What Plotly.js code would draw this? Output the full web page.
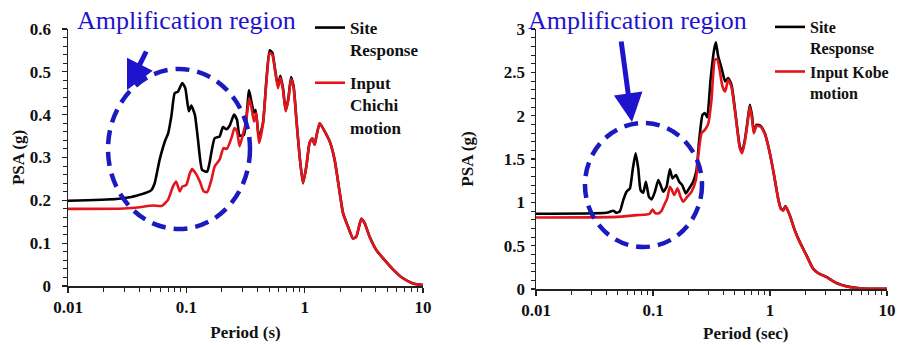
<!DOCTYPE html>
<html>
<head>
<meta charset="utf-8">
<script src="https://cdn.plot.ly/plotly-3.0.1.min.js"></script>
<style>html,body{margin:0;padding:0;background:#fff;}#chart{width:901px;height:345px;}</style>
</head>
<body>
<div id="chart"></div>
<script>
// ---- Data: Chi-Chi (left panel) ----
const periodSiteChichi = [0.01,0.0256,0.0332,0.0403,0.0459,0.0506,0.054,0.0595,0.0665,0.070,0.0747,0.0797,0.085,0.0925,0.098,0.105,0.110,0.118,0.1255,0.136,0.150,0.157,0.1735,0.191,0.204,0.218,0.232,0.253,0.268,0.282,0.307,0.339,0.354,0.373,0.385,0.411,0.445,0.474,0.506,0.533,0.558,0.595,0.623,0.656,0.691,0.728,0.767,0.807,0.851,0.907,0.968,1.033,1.10,1.16,1.215,1.255,1.34,1.476,1.63,1.79,1.98,2.11,2.32,2.56,2.73,3.01,3.21,3.54,4.03,4.59,5.57,6.78,8.23,10];
const psaSiteChichi = [0.199,0.203,0.207,0.213,0.218,0.224,0.240,0.295,0.341,0.355,0.396,0.450,0.454,0.474,0.462,0.408,0.421,0.400,0.341,0.271,0.267,0.287,0.345,0.349,0.371,0.366,0.374,0.400,0.388,0.351,0.353,0.457,0.431,0.405,0.411,0.345,0.382,0.478,0.550,0.545,0.512,0.466,0.491,0.462,0.410,0.437,0.488,0.465,0.390,0.302,0.240,0.279,0.334,0.345,0.330,0.349,0.380,0.361,0.337,0.295,0.217,0.170,0.139,0.111,0.115,0.157,0.147,0.115,0.084,0.065,0.039,0.018,0.006,0.002];
const periodInputChichi = [0.01,0.03,0.0403,0.052,0.062,0.070,0.077,0.082,0.088,0.0925,0.1,0.107,0.112,0.12,0.13,0.14,0.15,0.163,0.1735,0.191,0.206,0.22,0.243,0.255,0.268,0.282,0.30,0.32,0.339,0.356,0.373,0.39,0.411,0.445,0.474,0.506,0.533,0.558,0.595,0.623,0.656,0.691,0.728,0.767,0.807,0.851,0.907,0.968,1.033,1.10,1.16,1.215,1.255,1.34,1.476,1.63,1.79,1.98,2.11,2.32,2.56,2.73,3.01,3.21,3.54,4.03,4.59,5.57,6.78,8.23,10];
const psaInputChichi = [0.180,0.181,0.184,0.188,0.187,0.201,0.232,0.244,0.221,0.232,0.236,0.263,0.273,0.263,0.244,0.221,0.219,0.248,0.279,0.295,0.322,0.320,0.349,0.369,0.361,0.326,0.353,0.384,0.439,0.415,0.384,0.404,0.334,0.380,0.474,0.544,0.540,0.509,0.462,0.486,0.458,0.408,0.435,0.483,0.462,0.388,0.302,0.240,0.279,0.334,0.345,0.330,0.349,0.380,0.361,0.337,0.295,0.217,0.170,0.139,0.111,0.115,0.157,0.147,0.115,0.084,0.065,0.039,0.018,0.006,0.002];

// ---- Data: Kobe (right panel) ----
const periodSiteKobe = [0.01,0.0401,0.0457,0.0489,0.0522,0.0557,0.0594,0.0635,0.067,0.071,0.0748,0.0783,0.0825,0.0869,0.0923,0.0973,0.1038,0.1109,0.1161,0.1223,0.1306,0.1394,0.1469,0.157,0.1675,0.1778,0.191,0.2039,0.2206,0.2356,0.2483,0.265,0.2775,0.2905,0.3104,0.3311,0.3444,0.3607,0.3853,0.414,0.4389,0.4688,0.5105,0.5521,0.578,0.6095,0.6421,0.6721,0.7038,0.7271,0.7664,0.8291,0.9031,0.984,1.077,1.174,1.237,1.295,1.356,1.476,1.628,1.796,2.048,2.334,2.576,3.035,3.697,4.5,5.85,7.6,10];
const psaSiteKobe = [0.868,0.879,0.902,0.879,0.899,1.026,1.122,1.161,1.373,1.566,1.392,1.141,1.111,1.238,1.064,1.034,1.122,1.257,1.199,1.122,1.180,1.381,1.276,1.315,1.238,1.199,1.103,1.161,1.238,1.373,1.720,2.009,2.029,1.982,2.414,2.742,2.846,2.684,2.549,2.395,2.433,2.356,1.990,1.643,1.585,1.720,1.932,2.125,1.990,1.816,1.894,1.882,1.797,1.604,1.334,1.045,0.929,0.910,0.956,0.852,0.679,0.544,0.390,0.235,0.185,0.139,0.069,0.031,0.008,0.002,0.001];
const periodInputKobe = [0.01,0.0429,0.0594,0.0724,0.0881,0.0941,0.0991,0.1038,0.1109,0.1183,0.1264,0.1324,0.1394,0.1441,0.1518,0.1622,0.1719,0.1812,0.196,0.2134,0.2325,0.2434,0.26,0.2775,0.2963,0.3162,0.338,0.354,0.3728,0.3926,0.414,0.4389,0.4688,0.5105,0.5521,0.578,0.6095,0.6421,0.6721,0.7038,0.7271,0.7664,0.8291,0.9031,0.984,1.077,1.174,1.237,1.295,1.356,1.476,1.628,1.796,2.048,2.334,2.576,3.035,3.697,4.5,5.85,7.6,10];
const psaInputKobe = [0.825,0.829,0.841,0.852,0.860,0.872,0.918,0.879,0.872,0.902,0.987,1.045,1.180,1.149,1.084,1.161,1.064,1.007,1.064,1.122,1.257,1.527,1.797,1.836,1.905,2.183,2.646,2.653,2.511,2.337,2.279,2.414,2.329,1.971,1.624,1.566,1.701,1.913,2.106,1.951,1.797,1.882,1.874,1.790,1.600,1.330,1.040,0.925,0.905,0.950,0.848,0.675,0.540,0.388,0.233,0.183,0.137,0.068,0.030,0.008,0.002,0.001];

// ---- Labels ----
const xTickVals = [0.01, 0.1, 1, 10];
const xTickText = ['0.01', '0.1', '1', '10'];
const nameSite = 'Site<br>Response';
const nameInputChichi = 'Input<br>Chichi<br>motion';
const nameInputKobe = 'Input Kobe<br>motion';
const calloutText = 'Amplification region';

const W = 901, H = 345;
const px = v => v / W;
const py = v => 1 - v / H;

const SERIF = '"Liberation Serif", "Times New Roman", Times, "DejaVu Serif", serif';
const BLACK = '#000000';
const RED = '#e3141c';
const BLUE = '#1f14cc';
const NAVY = '#1a1abf';

const lineStyle = (c) => ({color: c, width: 2.6, shape: 'spline', smoothing: 0.5});

const traces = [
  {x: periodSiteChichi, y: psaSiteChichi, name: nameSite, mode: 'lines', line: lineStyle(BLACK), xaxis: 'x', yaxis: 'y', legend: 'legend', legendgroup: 'a'},
  {x: periodInputChichi, y: psaInputChichi, name: nameInputChichi, mode: 'lines', line: lineStyle(RED), xaxis: 'x', yaxis: 'y', legend: 'legend', legendgroup: 'b'},
  {x: periodSiteKobe, y: psaSiteKobe, name: nameSite, mode: 'lines', line: lineStyle(BLACK), xaxis: 'x2', yaxis: 'y2', legend: 'legend2'},
  {x: periodInputKobe, y: psaInputKobe, name: nameInputKobe, mode: 'lines', line: lineStyle(RED), xaxis: 'x2', yaxis: 'y2', legend: 'legend2'}
];

const tickFont = {family: SERIF, size: 17, color: '#111', weight: 'bold'};
const titleFont = {family: SERIF, size: 17, color: '#111', weight: 'bold'};

const xBase = {
  type: 'log', range: [-2, 1], tickvals: xTickVals, ticktext: xTickText,
  showgrid: false, zeroline: false, showline: true, linecolor: '#222', linewidth: 1.5,
  ticks: 'outside', ticklen: 5, tickwidth: 1.2, tickcolor: '#222', tickfont: tickFont,
  ticklabelstandoff: 0,
  minor: {dtick: 'D1', ticks: 'outside', ticklen: 4, tickwidth: 1, tickcolor: '#222', showgrid: false},
  fixedrange: true
};
const yBase = {
  showgrid: false, zeroline: false, showline: true, linecolor: '#222', linewidth: 1.5,
  ticks: 'outside', tickwidth: 1.2, tickcolor: '#222', tickfont: tickFont, fixedrange: true
};

const layout = {
  width: W, height: H,
  margin: {l: 0, r: 0, t: 0, b: 0},
  paper_bgcolor: '#ffffff', plot_bgcolor: '#ffffff',
  font: {family: SERIF},
  showlegend: true,
  xaxis: Object.assign({}, xBase, {domain: [px(68), px(423)], anchor: 'y',
    title: {text: 'Period (s)', font: titleFont, standoff: 10}}),
  yaxis: Object.assign({}, yBase, {domain: [py(286), py(29)], anchor: 'x', range: [0, 0.6], dtick: 0.1,
    ticklen: 5, ticklabelstandoff: 7,
    minor: {dtick: 0.02, ticks: 'outside', ticklen: 4, tickwidth: 1, tickcolor: '#222', showgrid: false},
    title: {text: 'PSA (g)', font: titleFont, standoff: 1}}),
  xaxis2: Object.assign({}, xBase, {domain: [px(536), px(887)], anchor: 'y2'}),
  yaxis2: Object.assign({}, yBase, {domain: [py(289), py(29)], anchor: 'x2', range: [0, 3], dtick: 0.5,
    ticklen: 4, ticklabelstandoff: 2,
    minor: {dtick: 0.1, ticks: 'outside', ticklen: 4, tickwidth: 1, tickcolor: '#222', showgrid: false},
    title: {text: 'PSA (g)', font: titleFont, standoff: 26}}),
  legend: {x: px(310), y: py(10), xanchor: 'left', yanchor: 'top', bgcolor: 'rgba(0,0,0,0)',
    font: {family: SERIF, size: 17, color: '#111', weight: 'bold'}, valign: 'top',
    traceorder: 'grouped', tracegroupgap: 8, itemclick: false, itemdoubleclick: false},
  legend2: {x: px(770), y: py(10), xanchor: 'left', yanchor: 'top', bgcolor: 'rgba(0,0,0,0)',
    font: {family: SERIF, size: 16, color: '#111', weight: 'bold'}, valign: 'top',
    traceorder: 'normal', itemclick: false, itemdoubleclick: false},
  shapes: [
    {type: 'circle', xref: 'paper', yref: 'paper', x0: px(108), x1: px(250), y0: py(229), y1: py(69),
     line: {color: NAVY, width: 4.5, dash: '14px,8px'}, layer: 'above'},
    {type: 'circle', xref: 'paper', yref: 'paper', x0: px(585), x1: px(702), y0: py(247), y1: py(123),
     line: {color: NAVY, width: 4.5, dash: '14px,8px'}, layer: 'above'}
  ],
  annotations: [
    {text: calloutText, xref: 'paper', yref: 'paper', x: px(186), y: py(21), xanchor: 'center', yanchor: 'middle',
     showarrow: false, font: {family: SERIF, size: 26, color: BLUE}},
    {text: calloutText, xref: 'paper', yref: 'paper', x: px(637), y: py(20), xanchor: 'center', yanchor: 'middle',
     showarrow: false, font: {family: SERIF, size: 26, color: BLUE}},
    {text: '', xref: 'paper', yref: 'paper', x: px(127), y: py(90), showarrow: true, ax: 20, ay: -40,
     arrowhead: 2, arrowsize: 1.15, arrowwidth: 5, arrowcolor: BLUE},
    {text: '', xref: 'paper', yref: 'paper', x: px(632), y: py(122), showarrow: true, ax: -11, ay: -82,
     arrowhead: 2, arrowsize: 1.15, arrowwidth: 5, arrowcolor: BLUE},
    {text: 'Period (sec)', xref: 'paper', yref: 'paper', x: px(745), y: py(333), xanchor: 'center', yanchor: 'middle',
     showarrow: false, font: titleFont}
  ]
};

Plotly.newPlot('chart', traces, layout, {staticPlot: true, displayModeBar: false});
</script>
</body>
</html>
